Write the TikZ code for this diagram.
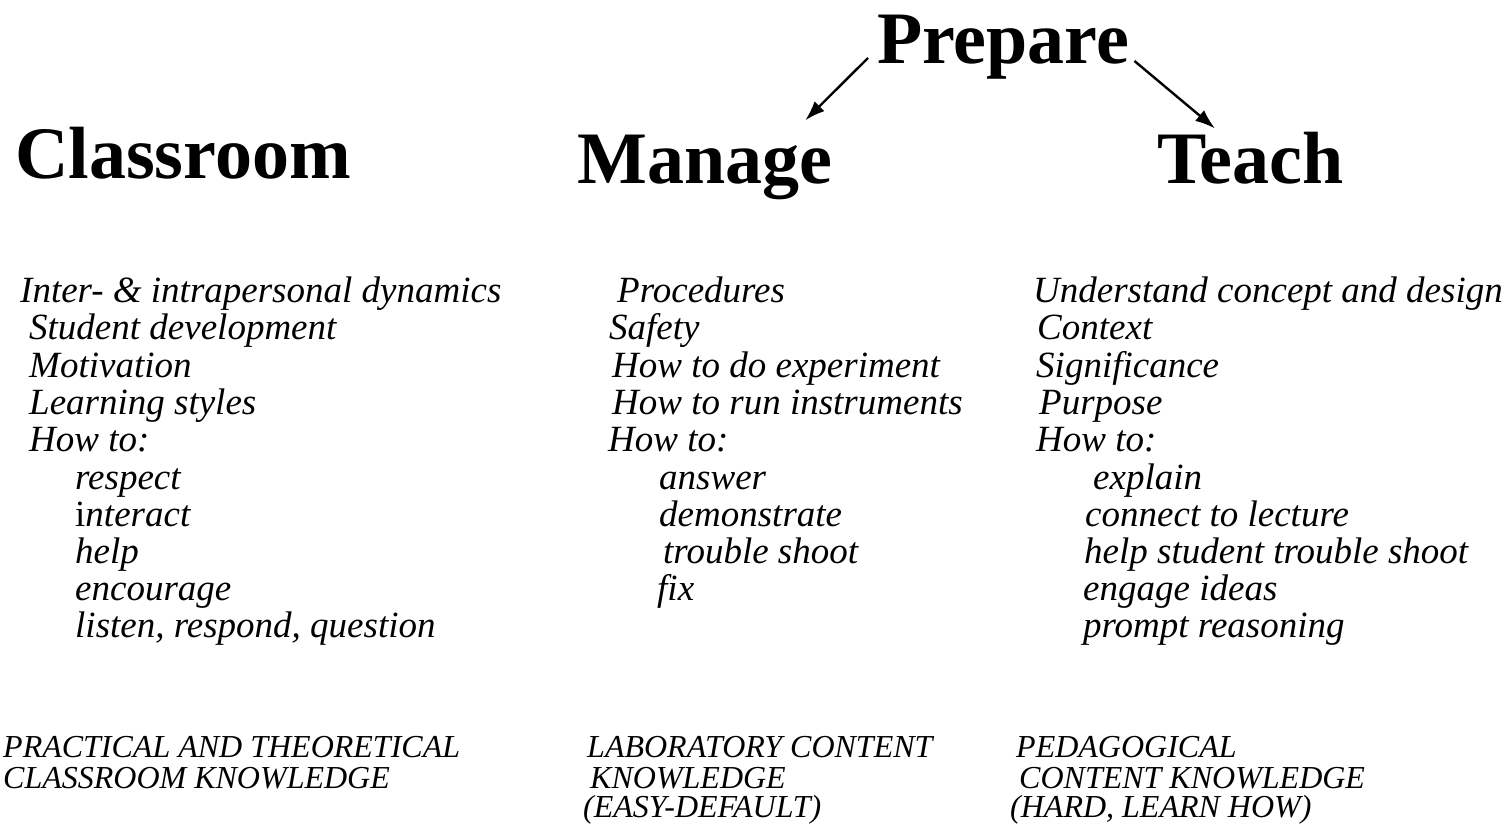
\documentclass[tikz,border=0pt]{standalone}
\usepackage{fontspec}
\setmainfont{Liberation Serif}
\usetikzlibrary{arrows.meta}

\begin{document}
\begin{tikzpicture}[x=1pt,y=-1pt]
\tikzstyle{head}=[anchor=base west,inner sep=0pt,font=\fontsize{74}{80}\selectfont\bfseries]
\tikzstyle{item}=[anchor=base west,inner sep=0pt,font=\fontsize{37}{40}\selectfont\itshape]
\tikzstyle{kind}=[anchor=base west,inner sep=0pt,font=\fontsize{32}{34}\selectfont\itshape]
\tikzstyle{op}=[-{Latex[length=20pt,width=14pt]},line width=2.4pt]
\useasboundingbox (0,0) rectangle (1509,824);

\node (1) at (877,64) [head]{Prepare};
\node (2) at (15,178) [head]{Classroom};
\node (3) at (577,183) [head]{Manage};
\node (4) at (1157,183) [head]{Teach};

% classroom column
\node (5) at (20,302) [item]{Inter- \& intrapersonal dynamics};
\node (6) at (29,339) [item]{Student development};
\node (7) at (29,377) [item]{Motivation};
\node (8) at (29,414) [item]{Learning styles};
\node (9) at (29,451) [item]{How to:};
\node (10) at (75,489) [item]{respect};
\node (11) at (75,526) [item]{{\upshape i}nteract};
\node (12) at (75,563) [item]{help};
\node (13) at (75,600) [item]{encourage};
\node (14) at (75,637) [item]{listen, respond, question};

% manage column
\node (15) at (617,302) [item]{Procedures};
\node (16) at (609,339) [item]{Safety};
\node (17) at (612,377) [item]{How to do experiment};
\node (18) at (612,414) [item]{How to run instruments};
\node (19) at (608,451) [item]{How to:};
\node (20) at (659,489) [item]{answer};
\node (21) at (659,526) [item]{demonstrate};
\node (22) at (663,563) [item]{trouble shoot};
\node (23) at (657,600) [item]{fix};

% teach column
\node (24) at (1033,302) [item]{Understand concept and design};
\node (25) at (1037,339) [item]{Context};
\node (26) at (1036,377) [item]{Significance};
\node (27) at (1039,414) [item]{Purpose};
\node (28) at (1036,451) [item]{How to:};
\node (29) at (1093,489) [item]{explain};
\node (30) at (1085,526) [item]{connect to lecture};
\node (31) at (1084,563) [item]{help student trouble shoot};
\node (32) at (1083,600) [item]{engage ideas};
\node (33) at (1083,637) [item]{prompt reasoning};

% knowledge types
\node (34) at (3,757) [kind]{PRACTICAL AND THEORETICAL};
\node (35) at (3,788) [kind]{CLASSROOM KNOWLEDGE};
\node (36) at (587,757) [kind]{LABORATORY CONTENT};
\node (37) at (590,788) [kind]{KNOWLEDGE};
\node (38) at (583,817) [kind]{(EASY-DEFAULT)};
\node (39) at (1016,757) [kind]{PEDAGOGICAL};
\node (40) at (1019,788) [kind]{CONTENT KNOWLEDGE};
\node (41) at (1010,817) [kind]{(HARD, LEARN HOW)};

\draw[op] ([shift={(-9,-6)}]1.base west) -- ([shift={(-27,-14)}]3.north east);
\draw[op] ([shift={(5,-3)}]1.base east) -- ([shift={(58,-3)}]4.north west);
\end{tikzpicture}
\end{document}
